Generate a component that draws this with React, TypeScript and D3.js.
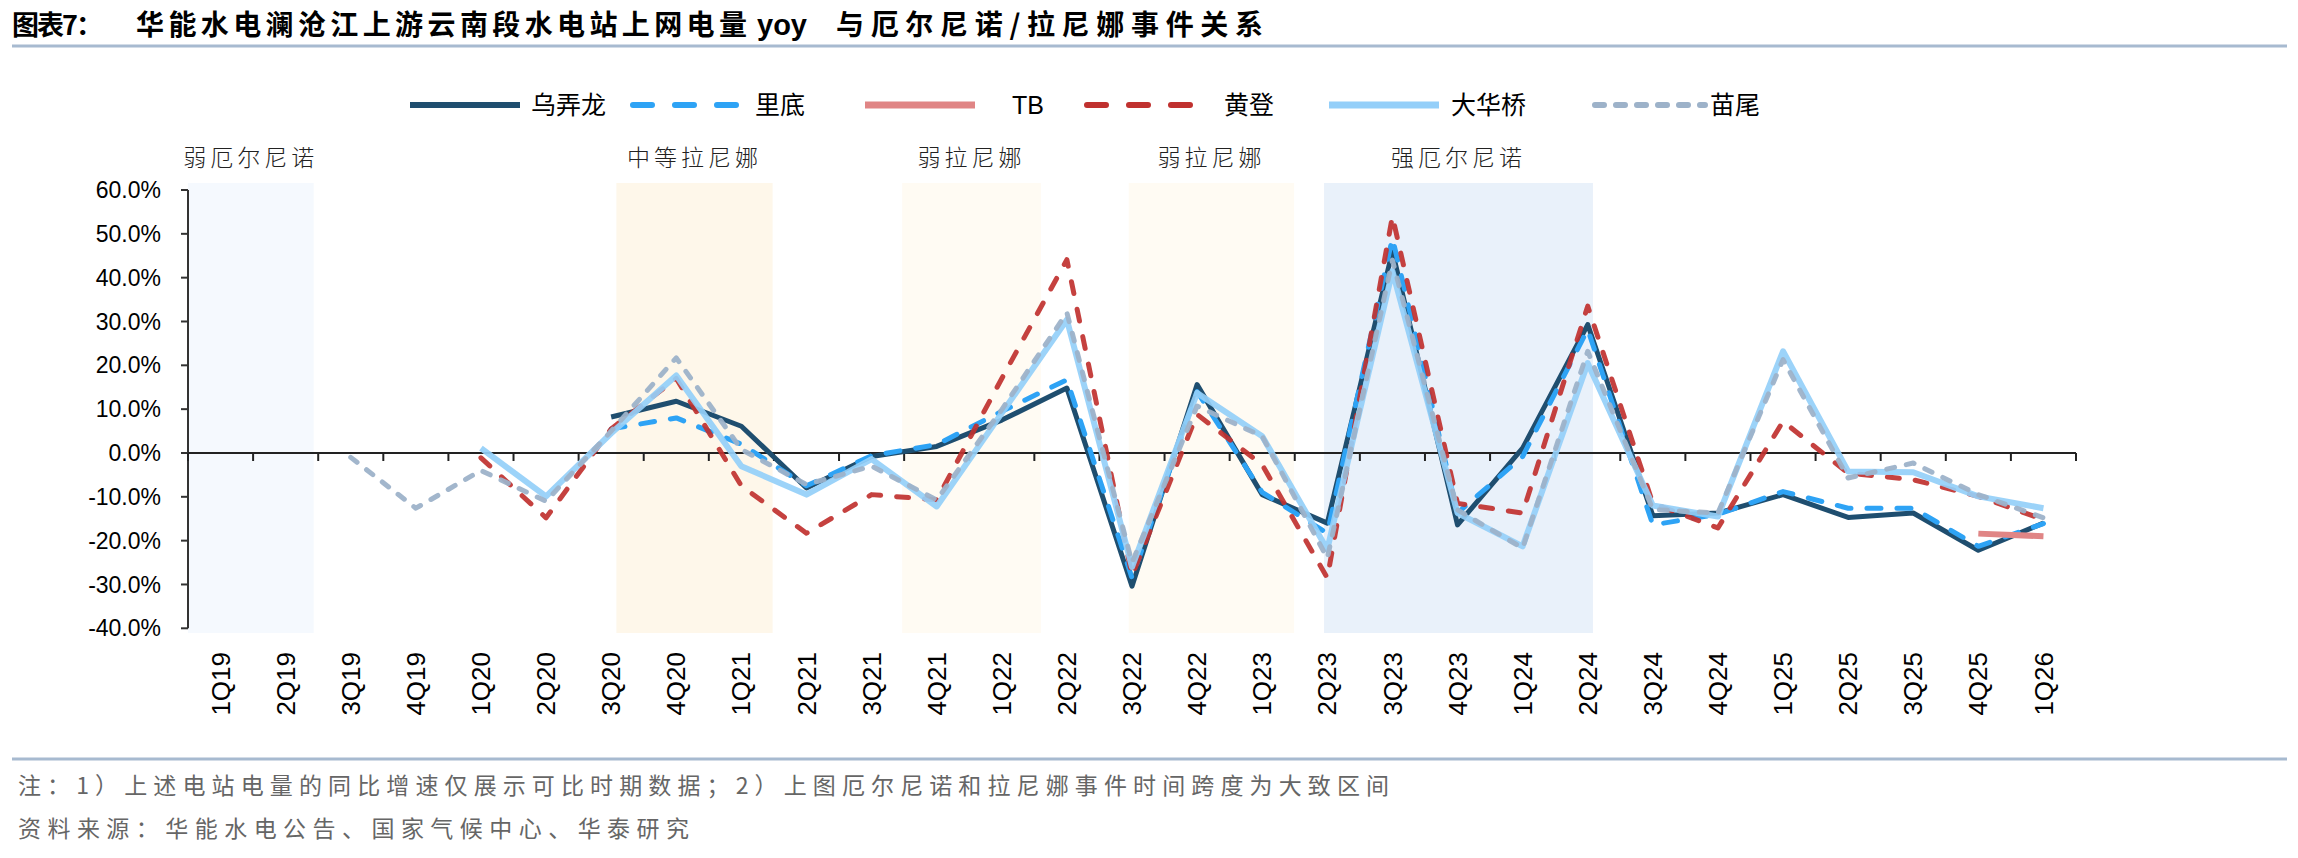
import React from 'react';
import * as d3 from 'd3';

const W = 2298;
const H = 858;

const categories = ['1Q19','2Q19','3Q19','4Q19','1Q20','2Q20','3Q20','4Q20','1Q21','2Q21','3Q21','4Q21','1Q22','2Q22','3Q22','4Q22','1Q23','2Q23','3Q23','4Q23','1Q24','2Q24','3Q24','4Q24','1Q25','2Q25','3Q25','4Q25','1Q26'];

const wunonglong = [null,null,null,null,null,null,8.2,11.8,6.1,-8.0,-0.8,1.5,7.5,14.8,-30.4,15.6,-9.5,-16.0,46.0,-16.4,1.1,29.3,-14.3,-13.7,-9.5,-14.7,-13.7,-22.2,-16.0];
const lidi = [null,null,null,null,null,null,5.5,8.0,2.0,-7.5,-0.6,1.9,9.5,16.7,-28.5,14.0,-9.0,-18.3,49.0,-13.7,-0.8,28.2,-16.4,-14.0,-8.8,-12.6,-12.6,-21.3,-16.1];
const tb = [null,null,null,null,null,null,null,null,null,null,null,null,null,null,null,null,null,null,null,null,null,null,null,null,null,null,null,-18.4,-19.0];
const huangdeng = [null,null,null,null,-1.1,-14.8,5.5,17.0,-7.5,-18.3,-9.5,-10.7,17.0,44.1,-28.0,8.8,-2.7,-28.5,54.0,-11.5,-13.7,33.5,-11.5,-17.1,7.2,-4.6,-6.1,-9.9,-15.2];
const dahuaqiao = [null,null,null,null,1.1,-9.9,4.5,17.7,-3.0,-9.5,-1.4,-12.2,9.1,30.4,-26.0,13.7,3.8,-22.0,41.5,-13.7,-21.3,20.5,-12.0,-14.5,23.2,-4.2,-4.4,-9.9,-12.6];
const miaowei = [null,null,-1.0,-12.6,-4.0,-11.0,5.0,21.7,0.8,-7.2,-3.0,-10.7,9.9,32.0,-25.0,10.7,3.8,-24.0,44.0,-13.0,-21.7,23.2,-12.9,-13.7,21.3,-5.7,-2.3,-9.5,-14.8];

const seriesNames = ['乌弄龙','里底','TB','黄登','大华桥','苗尾'];
const seriesValues = [wunonglong, lidi, tb, huangdeng, dahuaqiao, miaowei];

const yTicks = [60, 50, 40, 30, 20, 10, 0, -10, -20, -30, -40];

// ENSO events: span in quarter-band units
const eventLabels = ['弱厄尔尼诺','中等拉尼娜','弱拉尼娜','弱拉尼娜','强厄尔尼诺'];
const eventFrom = [0, 6.58, 10.97, 14.45, 17.45];
const eventTo = [1.93, 8.98, 13.1, 16.99, 21.58];
const eventKind = ['elnino-weak','lanina','lanina-weak','lanina-weak','elnino-strong'];

const styles = [
  { color: '#1f4e6f', width: 5, dash: null, legendDash: null, opacity: 1 },
  { color: '#2ea3f5', width: 5, dash: '14 16', legendDash: '19 23', opacity: 1 },
  { color: '#e08585', width: 6, dash: null, legendDash: null, opacity: 1 },
  { color: '#c0312f', width: 5, dash: '12 16', legendDash: '19 23', opacity: 0.92 },
  { color: '#94cff9', width: 6, dash: null, legendDash: null, opacity: 0.92 },
  { color: '#9db2c9', width: 5, dash: '8 12', legendDash: '9 12', opacity: 0.95 },
];

const kindFill: Record<string, string> = {
  'elnino-weak': '#f5f9fe',
  'lanina': '#fef7ea',
  'lanina-weak': '#fffbf3',
  'elnino-strong': '#e9f1fa',
};

const legendX = [410, 633, 865, 1087, 1329, 1595];
const legendTextX = [531, 755, 1012, 1224, 1451, 1710];

export default function App() {
  const left = 188, right = 2076;
  const x = d3.scaleBand<string>().domain(categories).range([left, right]).padding(0);
  const bw = x.bandwidth();
  const xu = d3.scaleLinear().domain([0, categories.length]).range([left, right]);
  const y = d3.scaleLinear().domain([-40, 60]).range([628.3, 190]);
  const cx = (i: number) => (x(categories[i]) as number) + bw / 2;

  const line = d3.line<number | null>()
    .defined((d) => d !== null)
    .x((_, i) => cx(i))
    .y((d) => y(d as number));

  const cjk = '"Noto Sans CJK SC", "Noto Sans", sans-serif';
  const latin = '"Liberation Sans", Arial, sans-serif';

  return (
    <svg width={W} height={H} style={{ position: 'absolute', left: 0, top: 0, background: '#fff' }} xmlns="http://www.w3.org/2000/svg">
      <rect x={0} y={0} width={W} height={H} fill="#fff" />
      {/* title */}
      <text x={12} y={35} fontFamily={cjk} fontWeight={700} fontSize={27} fill="#000" textLength={91} lengthAdjust="spacing">图表7：</text>
      <text x={136} y={35} fontFamily={cjk} fontWeight={700} fontSize={28} fill="#000" textLength={611} lengthAdjust="spacing">华能水电澜沧江上游云南段水电站上网电量</text>
      <text x={757} y={35} fontFamily={latin} fontWeight={700} fontSize={29} fill="#000">yoy</text>
      <text x={836} y={35} fontFamily={cjk} fontWeight={700} fontSize={28} fill="#000" textLength={427} lengthAdjust="spacing">与厄尔尼诺/拉尼娜事件关系</text>
      <line x1={12} x2={2287} y1={46} y2={46} stroke="#a7bad0" strokeWidth={3} />

      {/* event shading */}
      {eventLabels.map((lab, k) => (
        <rect key={'ev' + k} x={xu(eventFrom[k])} y={183} width={xu(eventTo[k]) - xu(eventFrom[k])} height={450} fill={kindFill[eventKind[k]]} />
      ))}
      {eventLabels.map((lab, k) => (
        <text key={'evl' + k} x={(xu(eventFrom[k]) + xu(eventTo[k])) / 2} y={166} textAnchor="middle" fontFamily={cjk} fontWeight={300} fontSize={23} letterSpacing={4} fill="#222">{lab}</text>
      ))}

      {/* y axis */}
      <line x1={left} x2={left} y1={y(60)} y2={y(-40)} stroke="#333" strokeWidth={2} />
      {yTicks.map((t) => (
        <g key={'yt' + t}>
          <line x1={left - 7} x2={left} y1={y(t)} y2={y(t)} stroke="#333" strokeWidth={2} />
          <text x={161} y={y(t)} dy="0.35em" textAnchor="end" fontFamily={latin} fontSize={23} fill="#000">{t.toFixed(1) + '%'}</text>
        </g>
      ))}

      {/* x axis at 0 */}
      <line x1={left} x2={right} y1={y(0)} y2={y(0)} stroke="#222" strokeWidth={2} />
      {d3.range(categories.length + 1).map((i) => (
        <line key={'xt' + i} x1={xu(i)} x2={xu(i)} y1={y(0)} y2={y(0) + 8} stroke="#222" strokeWidth={2} />
      ))}
      {categories.map((c, i) => (
        <text key={'xl' + c} transform={`translate(${cx(i)},652) rotate(-90)`} dy="0.35em" textAnchor="end" fontFamily={latin} fontSize={26} fill="#000">{c}</text>
      ))}

      {/* series */}
      {seriesValues.map((vals, k) => (
        <path key={'s' + k} d={line(vals) || ''} fill="none" stroke={styles[k].color} strokeWidth={styles[k].width}
          strokeDasharray={styles[k].dash || undefined} strokeLinecap={styles[k].dash ? 'round' : 'butt'} strokeLinejoin="round" opacity={styles[k].opacity} />
      ))}

      {/* legend */}
      {seriesNames.map((nm, k) => (
        <g key={'lg' + k}>
          <line x1={legendX[k]} x2={legendX[k] + 110} y1={105} y2={105} stroke={styles[k].color} strokeWidth={styles[k].width + 1}
            strokeDasharray={styles[k].legendDash || undefined} strokeLinecap={styles[k].legendDash ? 'round' : 'butt'} />
          <text x={legendTextX[k]} y={105} dy="0.36em" fontFamily={nm === 'TB' ? latin : cjk} fontSize={25} fill="#000">{nm}</text>
        </g>
      ))}

      {/* footer */}
      <line x1={12} x2={2287} y1={759} y2={759} stroke="#a7bad0" strokeWidth={3} />
      <text x={18} y={794} fontFamily={cjk} fontSize={23} fill="#666" textLength={1371} lengthAdjust="spacing">注：1）上述电站电量的同比增速仅展示可比时期数据；2）上图厄尔尼诺和拉尼娜事件时间跨度为大致区间</text>
      <text x={18} y={837} fontFamily={cjk} fontSize={23} fill="#666" textLength={671} lengthAdjust="spacing">资料来源：华能水电公告、国家气候中心、华泰研究</text>
    </svg>
  );
}
